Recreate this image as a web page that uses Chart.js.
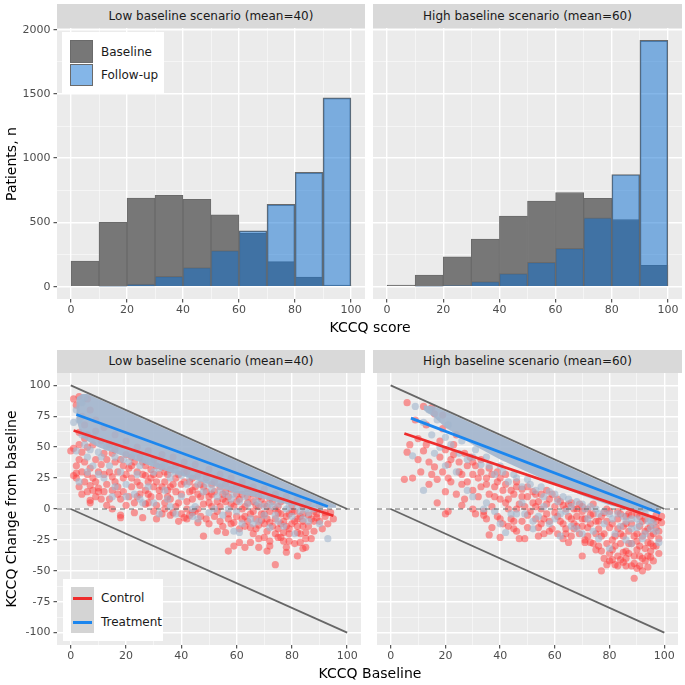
<!DOCTYPE html>
<html>
<head>
<meta charset="utf-8">
<script src="https://cdn.jsdelivr.net/npm/chart.js@4.4.1/dist/chart.umd.min.js"></script>
<style>
  body { margin: 0; background: #fff; font-family: "DejaVu Sans", sans-serif; }
  #wrap { position: relative; width: 685px; height: 685px; overflow: hidden; }
  canvas { position: absolute; }
  .strip { position: absolute; background: #d9d9d9; color: #1a1a1a; font-size: 12px; text-align: center; }
  .title { position: absolute; font-size: 14px; color: #000; white-space: nowrap; transform: translate(-50%, -50%); }
  .title.rot { transform: translate(-50%, -50%) rotate(-90deg); }
  .legend { position: absolute; background: #fff; font-size: 12px; color: #1a1a1a; }
  .legend .key { position: absolute; box-sizing: border-box; }
  .legend .lab { position: absolute; white-space: nowrap; transform: translateY(-50%); }
</style>
</head>
<body>
<div id="wrap">
  <canvas id="histLow" width="365" height="316" style="left:0;top:4px"></canvas>
  <canvas id="histHigh" width="309" height="316" style="left:373px;top:4px"></canvas>
  <canvas id="chgLow" width="365" height="317" style="left:0;top:349px"></canvas>
  <canvas id="chgHigh" width="309" height="317" style="left:373px;top:349px"></canvas>

  <div class="strip" style="left:57px;top:4px;width:308px;height:24px;line-height:24px">Low baseline scenario (mean=40)</div>
  <div class="strip" style="left:373px;top:4px;width:309px;height:24px;line-height:24px">High baseline scenario (mean=60)</div>
  <div class="strip" style="left:57px;top:350px;width:308px;height:23px;line-height:23px">Low baseline scenario (mean=40)</div>
  <div class="strip" style="left:373px;top:350px;width:309px;height:23px;line-height:23px">High baseline scenario (mean=60)</div>

  <div class="title rot" style="left:11px;top:164px">Patients, n</div>
  <div class="title rot" style="left:11px;top:509px">KCCQ Change from baseline</div>
  <div class="title" style="left:370px;top:327px">KCCQ score</div>
  <div class="title" style="left:370px;top:673px">KCCQ Baseline</div>

  <div class="legend" style="left:62px;top:32px;width:102px;height:61px">
    <div class="key" style="left:8px;top:8px;width:23px;height:23px;background:#777;border:1px solid #6a6a6a"></div>
    <div class="key" style="left:8px;top:32px;width:23px;height:22px;background:rgba(10,110,210,0.5);border:1px solid #6a6a6a"></div>
    <div class="lab" style="left:39px;top:20px">Baseline</div>
    <div class="lab" style="left:39px;top:43px">Follow-up</div>
  </div>
  <div class="legend" style="left:63px;top:579px;width:100px;height:62px">
    <div class="key" style="left:8px;top:8px;width:23px;height:46px;background:#d4d4d4"></div>
    <div class="key" style="left:10px;top:18px;width:19px;height:3px;background:#ee2c2c"></div>
    <div class="key" style="left:10px;top:42px;width:19px;height:3px;background:#1c86ee"></div>
    <div class="lab" style="left:38px;top:19px">Control</div>
    <div class="lab" style="left:38px;top:43px">Treatment</div>
  </div>
</div>

<script>
// histogram bins (KCCQ score, width 10)
const binMids = [5, 15, 25, 35, 45, 55, 65, 75, 85, 95];
const lowBaseline = [200, 500, 690, 710, 680, 560, 415, 195, 75, 13];
const lowFollowup = [0, 3, 21, 80, 148, 280, 435, 640, 889, 1469];
const highBaseline = [13, 91, 233, 370, 549, 666, 733, 687, 523, 166];
const highFollowup = [0, 3, 8, 39, 101, 189, 298, 536, 873, 1917];

const xTicks = [0, 10, 20, 30, 40, 50, 60, 70, 80, 90, 100];
const histTicks = [0, 250, 500, 750, 1000, 1250, 1500, 1750, 2000];
const changeTicks = [-100, -87.5, -75, -62.5, -50, -37.5, -25, -12.5, 0, 12.5, 25, 37.5, 50, 62.5, 75, 87.5, 100];

// change from baseline: scatter points [baseline, change]
const lowControlPts = [[1,89],[3,91],[6,89],[2,84],[1,49],[0,47],[1,27],[2,29],[5,57],[6,60],[4,46],[5,38],[7,33],[4,30],[2,25],[8,25],[10,30],[7,19],[10,17],[7,7],[7,5],[6,14],[10,14],[14,8],[14,30],[16,38],[19,25],[21,33],[16,22],[25,19],[27,27],[31,22],[34,30],[38,35],[42,30],[46,27],[12,45],[9,40],[15,45],[18,40],[22,42],[26,38],[30,40],[8,52],[11,55],[14,52],[3,62],[5,68],[4,75],[7,80],[9,72],[12,66],[16,60],[20,55],[24,50],[28,47],[33,44],[37,42],[41,38],[45,36],[50,32],[54,28],[58,25],[62,22],[66,18],[70,16],[74,12],[78,10],[82,8],[86,5],[90,3],[24,10],[28,12],[32,15],[36,18],[40,20],[44,15],[48,18],[52,22],[56,14],[60,12],[64,16],[68,10],[72,8],[76,6],[80,3],[84,2],[88,-2],[92,-3],[50,5],[54,2],[58,4],[62,0],[66,-2],[70,-4],[74,0],[78,-6],[82,-8],[86,-5],[38,2],[42,6],[46,0],[34,5],[30,-2],[20,3],[18,-5],[18,-7],[26,-7],[31,-8],[39,-10],[41,-7],[42,-8],[46,-11],[49,-8],[53,-18],[56,-19],[59,-11],[61,-16],[65,-15],[66,-20],[68,-13],[70,-23],[72,-11],[74,-20],[77,-19],[79,-16],[81,-10],[82,-19],[84,-14],[79,-26],[72,-26],[48,-22],[57,-34],[59,-30],[61,-27],[63,-31],[65,-27],[68,-31],[68,-24],[71,-34],[72,-30],[74,-45],[75,-23],[76,-23],[78,-31],[78,-35],[83,-27],[82,-38],[84,-32],[85,-31],[87,-24],[85,-19],[95,-8],[13,20],[17,12],[22,18],[29,25],[35,10],[43,22],[47,10],[51,12],[55,8],[60,6],[64,5],[67,3],[71,2],[75,-3],[80,-2],[84,-4],[89,-7],[36,-5],[44,-3],[52,-6],[57,-8],[63,-6],[69,-9],[76,-12],[88,-10],[11,8],[15,0],[23,-3],[27,4],[33,-4],[3,40],[3,52],[9,63],[6,50],
  [2,35],[3,18],[4,12],[5,22],[6,28],[8,15],[9,22],[9,10],[11,36],[12,28],[12,14],[13,40],[13,3],[15,26],[15,15],[16,48],[17,30],[17,18],[18,8],[19,35],[19,14],[20,28],[20,44],[21,10],[22,25],[22,35],[23,5],[23,38],[24,22],[24,30],[25,12],[25,42],[26,28],[27,15],[27,35],[28,5],[28,22],[29,32],[29,10],[30,18],[30,28],[31,3],[31,35],[32,10],[32,28],[33,18],[33,34],[34,0],[34,22],[35,15],[35,28],[36,8],[36,32],[37,20],[37,-3],[38,14],[38,25],[39,5],[39,28],[40,12],[40,-4],[41,22],[41,30],[42,0],[43,14],[43,-5],[44,25],[44,8],[45,18],[45,-2],[46,12],[47,20],[47,-6],[48,4],[49,14],[49,25],[50,10],[50,-12],[51,2],[51,20],[52,14],[53,-2],[53,6],[54,18],[54,-10],[55,12],[55,-14],[56,6],[56,20],[57,-4],[57,10],[58,16],[58,-12],[59,2],[60,-6],[60,18],[61,8],[62,-8],[62,12],[63,-14],[63,2],[64,10],[64,-10],[65,-4],[66,6],[66,12],[67,-8],[67,-16],[68,2],[69,-4],[69,8],[70,-12],[70,4],[71,-8],[71,-18],[72,-2],[73,-14],[73,6],[74,-8],[75,-16],[75,2],[76,-4],[77,-10],[77,-26],[78,-14],[79,-4],[79,-20],[80,-12],[81,-2],[81,-28],[82,-14],[83,-6],[83,-20],[84,-10],[85,-24],[86,-14],[87,-8],[88,-18],[89,-4],[90,-10],[91,-16],[92,-6],[93,-12],[94,-3]];
const lowTreatPts = [[3,22],[2,80],[4,86],[2,47],[5,90],[1,70],[3,72],[23,12],[32,-4],[38,-4],[59,-18],[61,-19],[81,-20],[90,-12],[93,-24],[15,10],[26,5],[35,8],[45,2],[50,-3],[55,-5],[65,-8],[70,-5],[75,-10],[80,-6],[86,-3],[12,25],[20,20],[28,18],[40,10],[8,35],[6,42],[10,46],[14,35],[18,30],[24,28],[30,30],[36,25],[42,20],[48,14],[53,10],[58,8],[63,10],[68,4],[73,2],[78,0],[83,-2],[88,0],[44,-6],[57,0],[66,-12],[72,-15],[86,-10],[77,-14],
  [4,60],[5,52],[7,48],[8,58],[11,42],[13,50],[16,42],[19,40],[21,38],[23,45],[25,35],[27,40],[29,38],[32,33],[34,36],[36,30],[38,30],[40,27],[43,25],[46,20],[49,20],[51,16],[54,15],[56,12],[59,12],[61,6],[64,4],[67,6],[70,2],[72,4],[75,4],[79,2],[82,2],[85,0],[90,0],[20,10],[25,8],[30,5],[34,15],[44,0],[52,0],[60,-2],[62,-12],[68,-10],[74,-5],[84,-8],[46,-8],[36,2],[16,18],[10,28],[6,30]];
const highControlPts = [[6,86],[5,24],[8,25],[6,46],[12,83],[15,82],[16,77],[19,76],[10,57],[12,47],[14,38],[15,28],[17,24],[21,25],[17,5],[20,-4],[21,-2],[26,3],[31,-4],[34,-5],[35,-8],[37,-15],[36,-21],[40,-23],[43,-14],[45,-16],[47,-24],[49,-24],[54,-22],[54,-15],[63,-24],[65,-27],[67,-16],[70,-38],[71,-27],[75,-33],[77,-50],[79,-45],[81,-41],[82,-45],[84,-41],[85,-43],[88,-46],[89,-56],[91,-46],[92,-40],[94,-47],[95,-39],[96,-30],[98,-24],[99,-11],[77,-34],[73,-27],[81,-33],[86,-34],[90,-33],[95,-34],[94,-27],[22,40],[25,30],[28,35],[26,20],[30,15],[32,25],[35,20],[38,10],[40,25],[42,5],[44,15],[46,0],[48,10],[50,-5],[52,5],[55,0],[56,-8],[58,8],[60,-3],[62,-10],[63,3],[65,-6],[67,-12],[68,0],[70,-8],[72,-15],[73,-5],[75,-20],[76,-10],[78,-3],[80,-15],[81,-25],[83,-8],[84,-20],[86,-12],[87,-28],[88,-5],[90,-20],[91,-30],[92,-10],[93,-18],[95,-22],[96,-8],[97,-15],[45,-10],[40,-8],[58,-18],[64,-20],[71,-25],[77,-22],[85,-35],[89,-38],[18,55],[20,48],[23,52],[27,45],[30,38],[33,40],[36,33],[39,30],[42,28],[46,22],[50,18],[53,12],[57,15],[61,8],[66,5],[70,2],[74,4],[79,0],[83,-2],[87,-4],[91,-6],[97,-5],[24,60],[19,65],[13,68],[9,72],[7,52],
  [10,40],[11,30],[13,52],[14,20],[16,34],[18,42],[19,30],[20,14],[21,36],[22,22],[23,44],[24,12],[25,38],[26,28],[27,8],[28,22],[29,42],[30,0],[30,28],[31,35],[32,10],[33,18],[33,30],[34,-2],[35,25],[36,12],[37,28],[37,2],[38,18],[39,-6],[39,22],[40,8],[41,15],[41,-12],[42,20],[43,0],[43,8],[44,-8],[45,12],[46,-18],[46,18],[47,4],[48,-10],[48,16],[49,2],[50,-15],[50,10],[51,-2],[52,14],[53,-8],[53,2],[54,6],[55,-12],[55,12],[56,-20],[57,4],[57,-4],[58,-10],[59,12],[59,-16],[60,2],[61,-6],[61,-20],[62,6],[63,-12],[64,0],[64,-16],[65,4],[66,-8],[66,-22],[67,0],[68,-14],[68,-6],[69,-20],[69,4],[70,-2],[70,-14],[71,-8],[72,-22],[72,0],[73,-12],[74,-28],[74,-4],[75,-10],[76,-16],[76,-30],[77,-6],[78,-20],[78,-40],[79,-10],[79,-28],[80,-2],[80,-36],[81,-12],[82,-22],[82,-30],[83,-16],[83,-38],[84,-4],[84,-28],[85,-14],[85,-22],[86,-40],[86,-6],[87,-18],[87,-36],[88,-28],[88,-12],[89,-22],[89,-44],[90,-4],[90,-26],[91,-14],[91,-38],[92,-22],[92,-50],[93,-8],[93,-32],[94,-16],[94,-38],[95,-28],[95,-14],[96,-20],[96,-42],[97,-10],[97,-30],[98,-18],[98,-36],[99,-6],[93,-42],[90,-48],[86,-46],[83,-46],[80,-42]];
const highTreatPts = [[9,83],[8,43],[12,15],[42,-19],[62,-22],[80,-32],[97,-18],[98,-27],[44,-4],[49,-4],[52,-10],[60,-8],[66,-14],[74,-18],[82,-20],[86,-25],[90,-15],[94,-10],[30,10],[35,5],[24,30],[18,50],[15,60],[12,70],[38,-2],[14,80],[17,72],[21,68],[26,55],[31,48],[35,42],[40,35],[45,28],[50,24],[55,18],[60,12],[65,8],[70,4],[75,0],[80,-4],[85,-6],[90,-8],[95,-9],[48,5],[56,2],[64,-2],[72,-8],[78,-12],[88,-16],[93,-20],
  [20,58],[22,52],[25,45],[28,40],[30,42],[33,36],[36,35],[38,28],[41,30],[43,22],[46,25],[48,18],[51,20],[53,15],[56,10],[58,14],[61,6],[63,10],[66,2],[68,6],[71,0],[73,2],[76,-4],[78,-2],[81,-8],[83,-4],[86,-10],[88,-8],[91,-12],[93,-4],[96,-12],[54,-6],[58,-12],[62,-4],[68,-16],[70,-20],[76,-24],[84,-14],[88,-28],[92,-24],[95,-16],[40,-12],[46,-4],[52,-16],[34,0],[28,15],[20,35],[16,45]];

// dense treatment cloud hugging the ceiling
const lowBandX = [2, 4, 6, 10, 20, 30, 40, 50, 60, 70, 80, 90, 96];
const lowBandTop = [90, 93, 93, 89, 79, 69, 59, 49, 39, 29, 19, 9, 3];
const lowBandBottom = [72, 58, 55, 50, 42, 34, 27, 20, 13, 8, 3, 1, 1];
const highBandX = [12, 16, 20, 30, 40, 50, 60, 70, 80, 90, 98];
const highBandTop = [84, 83, 79, 69, 59, 49, 39, 29, 19, 9, 2];
const highBandBottom = [80, 74, 66, 52, 40, 30, 20, 11, 3, -2, -2];

// fitted lines
const lowControlFit = [[1, 63.5], [95, -5.5]];
const lowTreatFit = [[2, 76.5], [93, 2]];
const highControlFit = [[5, 61], [99, -9]];
const highTreatFit = [[7.4, 73.5], [98.5, -3.5]];

const ceilingLine = [[0, 100], [100, 0]];
const floorLine = [[0, 0], [100, -100]];
const zeroLine = [[-5, 0], [105, 0]];

const COLORS = {
  baseline: '#777777',
  followup: 'rgba(10,110,210,0.5)',
  barEdge: '#6a6a6a',
  control: '#ee2c2c',
  treat: '#1c86ee',
  controlPt: 'rgba(255,60,60,0.5)',
  treatPt: 'rgba(162,181,205,0.6)',
  band: 'rgba(162,181,205,0.9)',
  ref: '#666666'
};

const panelBg = {
  id: 'panelBg',
  beforeDraw(chart) {
    const a = chart.chartArea;
    const ctx = chart.ctx;
    ctx.save();
    ctx.fillStyle = '#ebebeb';
    ctx.fillRect(a.left, a.top, a.right - a.left, a.bottom - a.top);
    ctx.restore();
  }
};

function makeAxis(ticks, every, min, max, withLabels, size, isX) {
  const major = v => Math.abs(v % every) < 1e-9;
  return {
    type: 'linear',
    min: min,
    max: max,
    offset: false,
    afterBuildTicks: s => { s.ticks = ticks.map(v => ({ value: v })); },
    afterFit: s => { if (isX) s.height = size; else s.width = size; },
    border: { display: false },
    grid: {
      offset: false,
      color: c => major(c.tick.value) ? '#ffffff' : 'rgba(255,255,255,0.75)',
      lineWidth: c => major(c.tick.value) ? 1.4 : 0.7,
      drawTicks: withLabels,
      tickLength: 3.5,
      tickColor: c => major(c.tick.value) ? '#333333' : 'rgba(0,0,0,0)',
      tickWidth: 1
    },
    ticks: {
      display: withLabels,
      autoSkip: false,
      maxRotation: 0,
      padding: isX ? 1 : 3,
      color: '#4d4d4d',
      font: { family: 'DejaVu Sans', size: 11 },
      callback: v => major(v) ? String(v) : ''
    }
  };
}

function baseOptions(xAxis, yAxis) {
  return {
    responsive: false,
    animation: false,
    events: [],
    layout: { padding: { top: 24, left: 0, right: 0, bottom: 0 } },
    plugins: { legend: { display: false }, tooltip: { enabled: false } },
    scales: { x: xAxis, y: yAxis }
  };
}

function histChart(id, baseline, followup, leftPanel) {
  const pts = vals => binMids.map((x, i) => ({ x: x, y: vals[i] }));
  const opts = baseOptions(
    makeAxis(xTicks, 20, -5, 105, true, 21, true),
    makeAxis(histTicks, 500, -96, 2013, leftPanel, leftPanel ? 57 : 0, false)
  );
  opts.scales.y.stacked = false;
  new Chart(document.getElementById(id), {
    type: 'bar',
    data: {
      datasets: [
        { label: 'Follow-up', data: pts(followup), backgroundColor: COLORS.followup,
          borderColor: COLORS.barEdge, borderWidth: 1, order: 0 },
        { label: 'Baseline', data: pts(baseline), backgroundColor: COLORS.baseline,
          borderColor: COLORS.barEdge, borderWidth: 1, order: 1 }
      ]
    },
    options: Object.assign(opts, {
      datasets: { bar: { grouped: false, barPercentage: 1, categoryPercentage: 1 } }
    }),
    plugins: [panelBg]
  });
}

function lineSet(points, color, width, order, dash) {
  return {
    data: points.map(p => ({ x: p[0], y: p[1] })),
    showLine: true, pointRadius: 0, borderColor: color, borderWidth: width,
    borderDash: dash || [], fill: false, order: order
  };
}

function pointSet(points, color, order) {
  return {
    data: points.map(p => ({ x: p[0], y: p[1] })),
    showLine: false, pointRadius: 3.6, pointBorderWidth: 0,
    backgroundColor: color, pointBackgroundColor: color, order: order
  };
}

function changeChart(id, d, leftPanel) {
  const opts = baseOptions(
    makeAxis(xTicks, 20, -5, 105, true, 21, true),
    makeAxis(changeTicks, 25, -110, 110, leftPanel, leftPanel ? 57 : 0, false)
  );
  const bandTop = {
    data: d.bandX.map((x, i) => ({ x: x, y: d.bandTop[i] })),
    showLine: true, pointRadius: 0, borderWidth: 0, borderColor: 'rgba(0,0,0,0)',
    backgroundColor: COLORS.band, fill: '+1', order: 6
  };
  const bandBottom = {
    data: d.bandX.map((x, i) => ({ x: x, y: d.bandBottom[i] })),
    showLine: true, pointRadius: 0, borderWidth: 0, borderColor: 'rgba(0,0,0,0)',
    fill: false, order: 7
  };
  new Chart(document.getElementById(id), {
    type: 'scatter',
    data: {
      datasets: [
        lineSet(d.treatFit, COLORS.treat, 2.7, 0),
        lineSet(d.controlFit, COLORS.control, 2.7, 1),
        lineSet(ceilingLine, COLORS.ref, 1.8, 2),
        lineSet(floorLine, COLORS.ref, 1.8, 3),
        lineSet(zeroLine, COLORS.ref, 1.2, 4, [5, 4]),
        pointSet(d.treatPts, COLORS.treatPt, 5),
        bandTop,
        bandBottom,
        pointSet(d.controlPts, COLORS.controlPt, 8)
      ]
    },
    options: opts,
    plugins: [panelBg]
  });
}

histChart('histLow', lowBaseline, lowFollowup, true);
histChart('histHigh', highBaseline, highFollowup, false);

changeChart('chgLow', {
  controlPts: lowControlPts, treatPts: lowTreatPts,
  bandX: lowBandX, bandTop: lowBandTop, bandBottom: lowBandBottom,
  controlFit: lowControlFit, treatFit: lowTreatFit
}, true);
changeChart('chgHigh', {
  controlPts: highControlPts, treatPts: highTreatPts,
  bandX: highBandX, bandTop: highBandTop, bandBottom: highBandBottom,
  controlFit: highControlFit, treatFit: highTreatFit
}, false);
</script>
</body>
</html>
